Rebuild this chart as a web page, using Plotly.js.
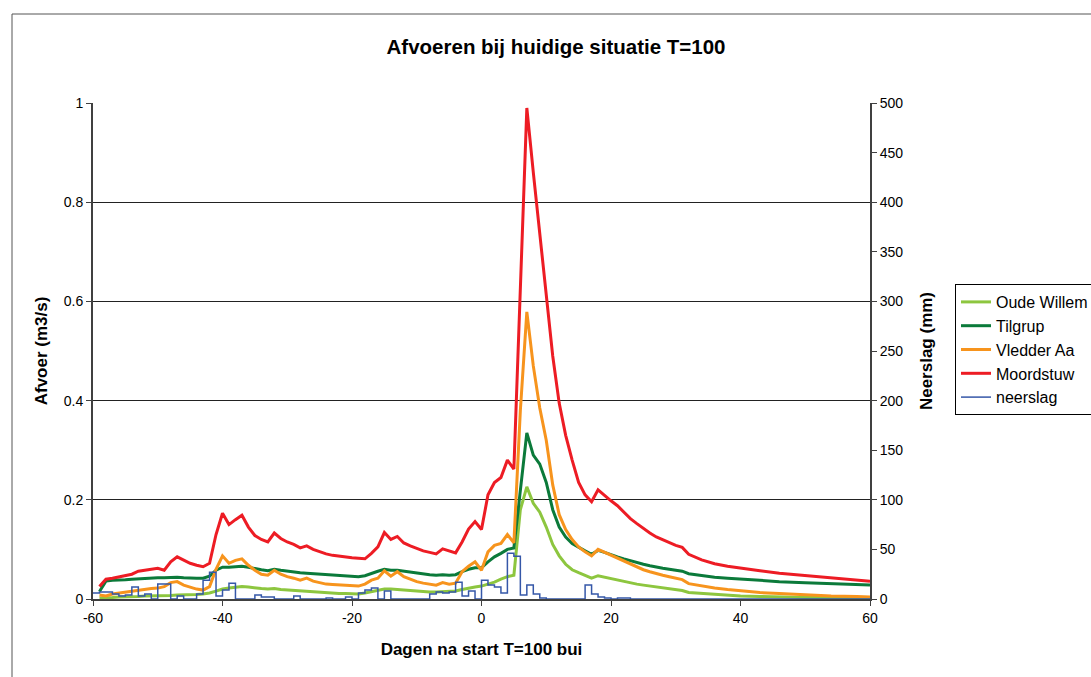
<!DOCTYPE html>
<html>
<head>
<meta charset="utf-8">
<script src="https://cdn.plot.ly/plotly-3.0.1.min.js"></script>
<style>html,body{margin:0;padding:0;background:#fff;}#chart{width:1091px;height:677px;}</style>
</head>
<body>
<div id="chart"></div>
<script>
// Days after start of T=100 rain event (discharge series)
const days = [-59,-58,-57,-56,-55,-54,-53,-52,-51,-50,-49,-48,-47,-46,-45,-44,-43,-42,-41,-40,
  -39,-38,-37,-36,-35,-34,-33,-32,-31,-30,-29,-28,-27,-26,-25,-24,-23,-22,-21,-20,
  -19,-18,-17,-16,-15,-14,-13,-12,-11,-10,-9,-8,-7,-6,-5,-4,-3,-2,-1,0,
  1,2,3,4,5,6,7,8,9,10,11,12,13,14,15,16,17,18,19,20,
  21,22,23,24,25,26,27,28,29,30,31,32,34,36,38,40,43,46,50,54,58,60];

const oudeWillem = [0.002,0.002,0.003,0.004,0.004,0.005,0.005,0.006,0.006,0.006,0.007,0.007,0.008,0.008,0.008,0.009,0.010,0.012,0.016,0.020,
  0.022,0.024,0.025,0.024,0.022,0.021,0.020,0.021,0.019,0.018,0.017,0.016,0.015,0.014,0.013,0.012,0.012,0.011,0.011,0.010,
  0.010,0.012,0.015,0.018,0.020,0.020,0.019,0.017,0.016,0.015,0.014,0.014,0.014,0.015,0.015,0.016,0.019,0.022,0.024,0.026,
  0.030,0.034,0.040,0.045,0.048,0.180,0.226,0.193,0.175,0.145,0.110,0.087,0.070,0.059,0.053,0.047,0.042,0.047,0.044,0.041,
  0.038,0.035,0.032,0.030,0.028,0.026,0.024,0.022,0.020,0.019,0.017,0.013,0.011,0.009,0.008,0.006,0.005,0.004,0.003,0.003,0.002,0.002];

const tilgrup = [0.015,0.036,0.038,0.038,0.039,0.040,0.041,0.042,0.042,0.043,0.043,0.044,0.044,0.043,0.042,0.042,0.042,0.046,0.058,0.064,
  0.064,0.065,0.066,0.064,0.061,0.059,0.057,0.060,0.058,0.056,0.055,0.053,0.052,0.051,0.050,0.049,0.048,0.047,0.046,0.046,
  0.045,0.047,0.052,0.056,0.060,0.058,0.058,0.056,0.054,0.052,0.050,0.049,0.048,0.049,0.048,0.049,0.055,0.060,0.063,0.063,
  0.075,0.085,0.092,0.100,0.103,0.220,0.335,0.290,0.272,0.235,0.180,0.145,0.125,0.112,0.104,0.097,0.090,0.098,0.094,0.089,
  0.085,0.081,0.077,0.073,0.070,0.067,0.064,0.062,0.060,0.058,0.056,0.051,0.047,0.044,0.042,0.040,0.037,0.035,0.033,0.031,0.029,0.028];

const vledderAa = [0.008,0.006,0.010,0.012,0.014,0.016,0.018,0.020,0.021,0.022,0.025,0.033,0.035,0.028,0.024,0.020,0.018,0.025,0.060,0.087,
  0.072,0.078,0.081,0.068,0.058,0.050,0.048,0.058,0.050,0.045,0.042,0.038,0.042,0.036,0.033,0.030,0.029,0.028,0.027,0.026,
  0.026,0.030,0.038,0.042,0.057,0.046,0.055,0.045,0.040,0.035,0.032,0.030,0.028,0.033,0.030,0.032,0.055,0.066,0.075,0.058,
  0.095,0.108,0.112,0.130,0.113,0.380,0.579,0.470,0.385,0.320,0.230,0.170,0.140,0.120,0.105,0.095,0.087,0.100,0.094,0.088,
  0.082,0.076,0.070,0.064,0.059,0.055,0.051,0.048,0.045,0.042,0.039,0.031,0.026,0.022,0.019,0.016,0.013,0.011,0.008,0.006,0.005,0.004];

const moordstuw = [0.025,0.040,0.042,0.045,0.048,0.050,0.056,0.058,0.060,0.062,0.058,0.075,0.085,0.078,0.072,0.068,0.065,0.072,0.130,0.173,
  0.150,0.160,0.169,0.145,0.128,0.120,0.115,0.133,0.122,0.115,0.110,0.103,0.107,0.100,0.095,0.091,0.088,0.086,0.084,0.083,
  0.082,0.081,0.092,0.105,0.134,0.120,0.126,0.113,0.107,0.102,0.097,0.094,0.091,0.101,0.097,0.093,0.115,0.141,0.156,0.140,
  0.210,0.235,0.245,0.280,0.262,0.620,0.990,0.860,0.740,0.620,0.490,0.395,0.330,0.280,0.235,0.210,0.196,0.220,0.208,0.198,
  0.188,0.175,0.162,0.152,0.142,0.133,0.125,0.119,0.113,0.108,0.104,0.090,0.079,0.071,0.066,0.062,0.057,0.052,0.047,0.042,0.038,0.036];

// Daily precipitation (mm)
const rainDays = [-60,-59,-58,-57,-56,-55,-54,-53,-52,-51,-50,-49,-48,-47,-46,-45,-44,-43,-42,-41,
  -40,-39,-38,-37,-36,-35,-34,-33,-32,-31,-30,-29,-28,-27,-26,-25,-24,-23,-22,-21,
  -20,-19,-18,-17,-16,-15,-14,-13,-12,-11,-10,-9,-8,-7,-6,-5,-4,-3,-2,-1,
  0,1,2,3,4,5,6,7,8,9,10,11,12,13,14,15,16,17,18,19,20,21,22,23,24,30,40,50,60];
const neerslag = [6,7,7,5,3,4,12,3,5,0,15,15,0,3,0,0,5,19,27,3,
  9,16,0,0,0,4,2,2,0,0,0,3,0,0,0,0,1,0,0,2,
  0,6,9,11,0,8,0,0,0,0,0,0,5,7,6,7,17,3,8,0,
  19,14,12,6,46,43,4,14,5,1,0,0,0,0,0,0,14,5,2,1,0,1,1,0,0,0,0,0,0];

const xTickVals = [-60,-40,-20,0,20,40,60];
const xTickText = ['-60','-40','-20','0','20','40','60'];

const seriesNames = ['Oude Willem','Tilgrup','Vledder Aa','Moordstuw','neerslag'];
const seriesColors = ['#8dc63f','#0b7a3a','#f7941d','#ed1c24','#3557a8'];

const font = 'Liberation Sans, Arial, sans-serif';
const flows = [oudeWillem, tilgrup, vledderAa, moordstuw];
const traces = flows.map((v,i)=>({
  x: days, y: v, type:'scatter', mode:'lines', name: seriesNames[i],
  legendgroup: 'g'+i,
  line:{color: seriesColors[i], width:3}, yaxis:'y'
}));
traces.push({
  x: rainDays, y: neerslag, type:'scatter', mode:'lines', name: seriesNames[4],
  legendgroup:'g4',
  line:{color: seriesColors[4], width:1.5, shape:'hv'}, yaxis:'y2'
});

const L=93, R=870, T=103, B=599;
const px2x = p => (p-L)/(R-L);
const px2y = p => (B-p)/(B-T);

const layout = {
  width:1091, height:677,
  margin:{l:L, r:1091-R, t:T, b:677-B, autoexpand:false},
  paper_bgcolor:'#fff', plot_bgcolor:'#fff',
  font:{family:font, size:14, color:'#000'},
  showlegend:true,
  title:{text:'<b>Afvoeren bij huidige situatie T=100</b>', font:{family:font, size:20.5, color:'#000'},
    xref:'container', x:556/1091, xanchor:'center', yref:'container', y:1-47/677, yanchor:'middle'},
  xaxis:{range:[-60,60], tickmode:'array', tickvals:xTickVals, ticktext:xTickText,
    ticks:'outside', ticklen:5, tickcolor:'#404040',
    showline:true, linecolor:'#404040', linewidth:2, showgrid:false, zeroline:false,
    tickfont:{family:font, size:14},
    title:{text:'<b>Dagen na start T=100 bui</b>', font:{family:font, size:17}, standoff:18}},
  yaxis:{range:[0,1], dtick:0.2, ticks:'outside', ticklen:5, tickcolor:'#404040',
    showline:true, linecolor:'#404040', linewidth:2, showgrid:true, gridcolor:'#222', gridwidth:1,
    zeroline:false, tickfont:{family:font, size:14},
    title:{text:'<b>Afvoer (m3/s)</b>', font:{family:font, size:17}, standoff:12}},
  yaxis2:{range:[0,500], dtick:50, overlaying:'y', side:'right', ticks:'outside', ticklen:5, tickcolor:'#404040',
    showline:true, linecolor:'#404040', linewidth:2, showgrid:false, zeroline:false,
    tickfont:{family:font, size:14},
    title:{text:'<b>Neerslag (mm)</b>', font:{family:font, size:17}, standoff:18}},
  legend:{x:px2x(955), y:px2y(284), xanchor:'left', yanchor:'top', bgcolor:'#fff',
    bordercolor:'#000', borderwidth:1, font:{family:font, size:16, color:'#000'},
    traceorder:'grouped', tracegroupgap:0, itemwidth:30},
  shapes:[{type:'rect', xref:'paper', yref:'paper', x0:px2x(12), x1:px2x(1200), y0:px2y(760), y1:px2y(14),
    line:{color:'#555', width:1}, fillcolor:'rgba(0,0,0,0)', layer:'below'}]
};

Plotly.newPlot('chart', traces, layout, {staticPlot:true});
</script>
</body>
</html>
